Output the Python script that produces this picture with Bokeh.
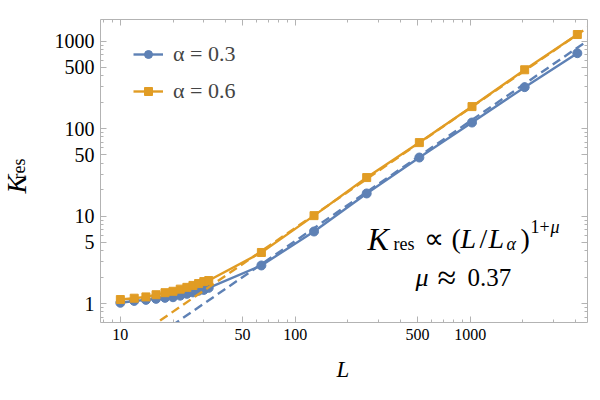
import numpy as np
from math import pi
from bokeh.plotting import figure
from bokeh.models import (Range1d, LogAxis, FixedTicker, Label, Legend, LegendItem,
                          CustomJSTickFormatter)
from bokeh.embed import file_html
from bokeh.resources import INLINE

# ---------------- data ----------------
L_vals = [10, 12, 14, 16, 18, 20, 22, 24, 26, 28, 30, 32, 64, 128, 256, 512, 1024, 2048, 4096]
K_alpha03 = [1.02, 1.07, 1.10, 1.13, 1.16, 1.18, 1.23, 1.29, 1.34, 1.40, 1.43, 1.51,
             2.72, 6.65, 18.1, 46.6, 117, 297, 726]
K_alpha06 = [1.11, 1.15, 1.19, 1.26, 1.33, 1.38, 1.46, 1.53, 1.61, 1.69, 1.78, 1.83,
             3.83, 10.1, 27.5, 69, 178, 469, 1186]
series_labels = ["α = 0.3", "α = 0.6"]

mu = 0.37
L_alpha_03 = 30.1
L_alpha_06 = 23.4
fit_L = [5, 8000]

x_major = [10, 50, 100, 500, 1000]
x_minor = [8, 9, 20, 30, 40, 60, 70, 80, 90, 200, 300, 400, 600, 700, 800, 900,
           2000, 3000, 4000]
y_major = [1, 5, 10, 50, 100, 500, 1000]
y_minor = [0.7, 0.8, 0.9, 2, 3, 4, 6, 7, 8, 9, 20, 30, 40, 60, 70, 80, 90,
           200, 300, 400, 600, 700, 800, 900]

# ---------------- style ----------------
BLUE = "#5E81B5"
ORANGE = "#E19C24"
GREY = "#b3b3b3"
FONT = "Liberation Serif"

FL, FR, FT, FB = 97, 587, 19, 322   # frame edges in canvas px

p = figure(width=600, height=400, x_axis_type="log", y_axis_type="log",
           x_range=Range1d(7.70, 4683), y_range=Range1d(0.6067, 1761),
           output_backend="svg", toolbar_location=None,
           min_border_left=FL, min_border_right=600 - FR,
           min_border_top=FT, min_border_bottom=400 - FB)
p.grid.visible = False
p.outline_line_color = None
p.background_fill_color = "white"
p.border_fill_color = "white"

p.add_layout(LogAxis(), "above")
p.add_layout(LogAxis(), "right")

for ax in p.xaxis:
    ax.ticker = FixedTicker(ticks=x_major, minor_ticks=x_minor)
for ax in p.yaxis:
    ax.ticker = FixedTicker(ticks=y_major, minor_ticks=y_minor)

for ax in p.axis:
    ax.axis_line_color = GREY
    ax.major_tick_line_color = GREY
    ax.minor_tick_line_color = GREY
    ax.major_tick_in = 6
    ax.major_tick_out = 0
    ax.minor_tick_in = 3
    ax.minor_tick_out = 0
    ax.major_label_text_font = FONT
    ax.major_label_text_color = "black"

p.below[0].major_label_text_font_size = "16px"
p.below[0].major_label_standoff = 6
p.left[0].major_label_text_font_size = "20px"
p.left[0].major_label_standoff = 6
for ax in (p.above[0], p.right[0]):
    ax.formatter = CustomJSTickFormatter(code="return ''")
    ax.major_label_text_font_size = "1px"
    ax.major_label_standoff = 0

# ---------------- data glyphs ----------------
r1_line = p.line(L_vals, K_alpha03, line_color=BLUE, line_width=2.4)
r1_pts = p.scatter(L_vals, K_alpha03, marker="circle", size=9, color=BLUE)
r2_line = p.line(L_vals, K_alpha06, line_color=ORANGE, line_width=2.4)
r2_pts = p.scatter(L_vals, K_alpha06, marker="square", size=8, color=ORANGE)

fit_L_arr = np.array(fit_L, dtype=float)
p.line(fit_L_arr, (fit_L_arr / L_alpha_03) ** (1 + mu), line_color=BLUE, line_width=2.4,
       line_dash="9 5")
p.line(fit_L_arr, (fit_L_arr / L_alpha_06) ** (1 + mu), line_color=ORANGE, line_width=2.4,
       line_dash="9 5")

legend = Legend(items=[LegendItem(label=series_labels[0], renderers=[r1_line, r1_pts]),
                       LegendItem(label=series_labels[1], renderers=[r2_line, r2_pts])],
                location=(33, 218), margin=0, padding=0, spacing=11,
                glyph_width=30, glyph_height=20, label_height=20, label_standoff=10,
                label_text_font=FONT, label_text_font_size="22px",
                border_line_color=None, background_fill_alpha=0)
p.add_layout(legend)

# ---------------- text ----------------
def txt(s, cx, cy, size, italic=False, angle=0.0, place="center", ox=FL, oy=FB):
    p.add_layout(Label(x=cx - ox, y=oy - cy, x_units="screen", y_units="screen",
                       text=s, text_font=FONT, text_font_size=f"{size}px",
                       text_font_style="italic" if italic else "normal",
                       text_color="black", text_align="left",
                       text_baseline="alphabetic", angle=angle), place)

# annotation line 1: K_res ∝ (L/L_α)^(1+μ)
txt("K", 364, 238, 32, True)
txt("res", 390, 243, 18)
txt("∝", 420, 238, 28)
txt("(", 448, 238, 28)
txt("L", 457, 238, 28, True)
txt("/", 476, 238, 28)
txt("L", 485, 238, 28, True)
txt("α", 503, 243, 18, True)
txt(")", 517, 238, 28)
txt("1+", 527, 226, 18)
txt("μ", 547, 226, 18, True)
# annotation line 2: μ ≈ 0.37
txt("μ", 412, 277, 26, True)
txt("≈", 434, 277, 34)
txt("0.37", 464, 277, 25)

# axis labels (each label sits in its own side panel outside the frame;
# the offsets compensate for the panel origins)
txt("K", -4, 193, 28, True, pi / 2, "left", ox=0, oy=FB)
txt("res", 18, 179, 18, False, pi / 2, "left", ox=0, oy=FB)
txt("L", 333, 402, 23, True, 0.0, "below", ox=FL, oy=400)

open("out.html", "w").write(file_html(p, INLINE))
